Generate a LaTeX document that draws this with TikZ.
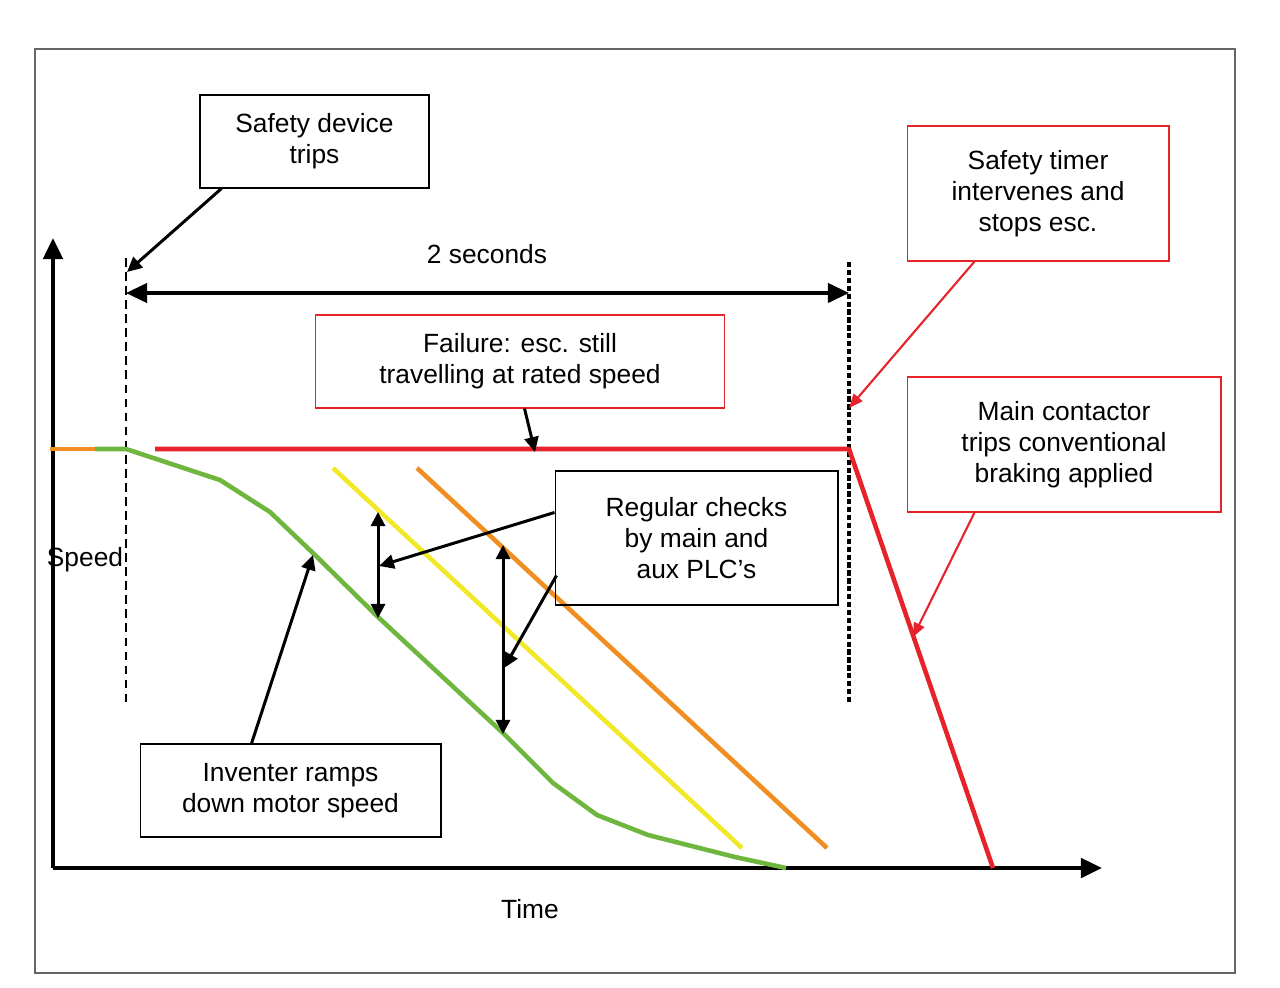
\documentclass[tikz,border=0pt]{standalone}
\usepackage{fontspec}
\setmainfont{Liberation Sans}
\usetikzlibrary{arrows.meta,calc}
\definecolor{alarmred}{RGB}{230,35,42}
\definecolor{rampgreen}{RGB}{110,182,62}
\definecolor{chkyellow}{RGB}{240,232,40}
\definecolor{chkorange}{RGB}{240,142,34}
\begin{document}
\begin{tikzpicture}[x=0.02cm,y=-0.02cm,
  lbl/.style={font=\fontsize{15}{17.6}\selectfont,inner sep=0pt},
  box/.style={lbl,draw,line width=0.6pt,align=center},
  redbox/.style={box,draw=alarmred},
  axis/.style={line width=2.3pt,-{Triangle[length=12pt,width=11pt]}},
  pointer/.style={line width=1.7pt,-{Triangle[length=8.5pt,width=8pt]}},
  redpointer/.style={draw=alarmred,line width=1.2pt,-{Triangle[length=8pt,width=6.5pt]},fill=alarmred},
  gap/.style={line width=1.7pt,{Triangle[length=8pt,width=8pt]}-{Triangle[length=8pt,width=8pt]}},
  trace/.style={line width=2.6pt,line join=round}]
  \useasboundingbox (0,0) rectangle (1280,987);
  \draw[gray!80!black,line width=0.6pt] (35,49) rectangle (1235,973);

  % axes
  \coordinate (O) at (53,868);
  \coordinate (ytop) at (53,238);
  \coordinate (xend) at (1102,868);
  \draw[axis] (O) -- (ytop);
  \draw[axis] (O) -- (xend);
  \node[lbl] (speed) at (85,560) {Speed};
  \node[lbl] (time) at (530,909) {Time};

  % trip and timeout markers
  \coordinate (trip) at (126,258);
  \coordinate (tripb) at (126,702);
  \coordinate (stop) at (849,262);
  \coordinate (stopb) at (849,702);
  \draw[line width=0.9pt,dash pattern=on 5pt off 3pt] (trip) -- (tripb);
  \draw[line width=1.8pt,dash pattern=on 3pt off 1.5pt] (stop) -- (stopb);
  \coordinate (s1) at (126,293);
  \coordinate (s2) at (849,293);
  \draw[line width=1.8pt,{Triangle[length=12pt,width=11pt]}-{Triangle[length=12pt,width=11pt]}] (s1) -- (s2);
  \node[lbl] (secs) at (487,254) {2 seconds};

  % speed traces
  \draw[trace,chkorange] (50,449) -- (95,449);
  \draw[trace,rampgreen] (95,449) -- (126,449) -- (220,480) -- (270,512) -- (315,555)
    -- (378,617) -- (503,733) -- (553,783) -- (597,815) -- (648,835) -- (735,857) -- (786,868);
  \draw[trace,chkyellow] (333,468) -- (742,848);
  \draw[trace,chkorange] (417,468) -- (827,848);
  \draw[trace,alarmred] (155,449) -- (849,449) -- (993,868);

  % gaps between checks and ramp
  \coordinate (g1a) at (378,512);
  \coordinate (g1b) at (378,618);
  \coordinate (g2a) at (503,545);
  \coordinate (g2b) at (503,734);
  \draw[gap] (g1a) -- (g1b);
  \draw[gap] (g2a) -- (g2b);

  % callouts
  \node[box,minimum width=4.58cm,minimum height=1.86cm] (device) at (314.5,141.5) {Safety device\\trips};
  \node[redbox,minimum width=5.24cm,minimum height=2.7cm] (timer) at (1038,193.5) {Safety timer\\intervenes and\\stops esc.};
  \node[redbox,minimum width=8.2cm,minimum height=1.86cm] (failure) at (520,361.5) {Failure: esc. still\\travelling at rated speed};
  \node[redbox,minimum width=6.28cm,minimum height=2.7cm] (contactor) at (1064,444.5) {Main contactor\\trips conventional\\braking applied};
  \node[box,minimum width=5.66cm,minimum height=2.68cm] (checks) at (696.5,538) {Regular checks\\by main and\\aux PLC’s};
  \node[box,minimum width=6.02cm,minimum height=1.86cm] (ramp) at (290.5,790.5) {Inventer ramps\\down motor speed};

  \coordinate (tripmark) at (127,272);
  \coordinate (stopmark) at (849,408);
  \coordinate (failmark) at (535,452);
  \coordinate (brakemark) at (913,637);
  \coordinate (rampmark) at (313,555);
  \coordinate (chk1) at (379,566);
  \coordinate (chk2) at (504,668);
  \draw[pointer] ($(device.south west)+(22,0)$) -- (tripmark);
  \draw[redpointer] ($(timer.south west)+(68,0)$) -- (stopmark);
  \draw[pointer] ($(failure.south west)+(210,0)$) -- (failmark);
  \draw[redpointer] ($(contactor.south west)+(68,0)$) -- (brakemark);
  \draw[pointer] ($(ramp.north west)+(112,0)$) -- (rampmark);
  \draw[pointer] ($(checks.north west)+(0,42)$) -- (chk1);
  \draw[pointer] ($(checks.north west)+(2,105)$) -- (chk2);
\end{tikzpicture}
\end{document}
